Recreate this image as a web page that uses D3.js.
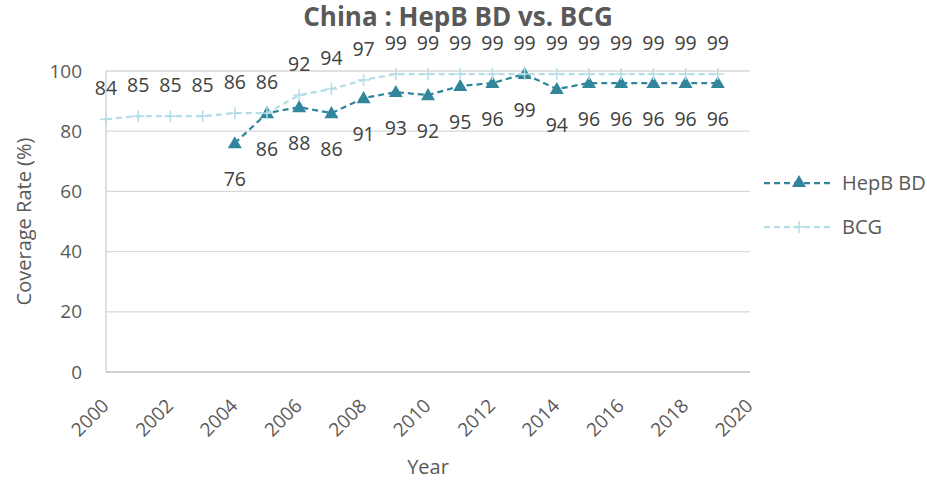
<!DOCTYPE html>
<html>
<head>
<meta charset="utf-8">
<script src="https://cdn.jsdelivr.net/npm/d3@7"></script>
<style>
  body { margin: 0; background: #fff; }
  text { font-family: "Open Sans", "Noto Sans", sans-serif; }
</style>
</head>
<body>
<svg id="chart" width="927" height="480"></svg>
<script>
// data
var bcgYears = [2000, 2001, 2002, 2003, 2004, 2005, 2006, 2007, 2008, 2009, 2010,
                2011, 2012, 2013, 2014, 2015, 2016, 2017, 2018, 2019];
var bcgValues = [84, 85, 85, 85, 86, 86, 92, 94, 97, 99, 99,
                 99, 99, 99, 99, 99, 99, 99, 99, 99];
var hepbYears = [2004, 2005, 2006, 2007, 2008, 2009, 2010, 2011, 2012, 2013,
                 2014, 2015, 2016, 2017, 2018, 2019];
var hepbValues = [76, 86, 88, 86, 91, 93, 92, 95, 96, 99, 94, 96, 96, 96, 96, 96];
var xTicks = [2000, 2002, 2004, 2006, 2008, 2010, 2012, 2014, 2016, 2018, 2020];
var yTicks = [0, 20, 40, 60, 80, 100];

var svg = d3.select("#chart");
var margin = {left: 106, right: 177, top: 71, bottom: 108};
var width = 927, height = 480;

var x = d3.scaleLinear().domain([2000, 2020]).range([margin.left, width - margin.right]);
var y = d3.scaleLinear().domain([0, 100]).range([height - margin.bottom, margin.top]);

var hepbColor = "#31869b", bcgColor = "#b4dde8";

// gridlines
svg.append("g").selectAll("line")
  .data(yTicks.filter(function (d) { return d > 0; }))
  .enter().append("line")
  .attr("x1", x(2000)).attr("x2", x(2020))
  .attr("y1", function (d) { return y(d); })
  .attr("y2", function (d) { return y(d); })
  .attr("stroke", "#d9d9d9").attr("stroke-width", 1.3);

// axes lines
svg.append("line")
  .attr("x1", x(2000)).attr("x2", x(2020)).attr("y1", y(0)).attr("y2", y(0))
  .attr("stroke", "#bfbfbf").attr("stroke-width", 1.5);
svg.append("line")
  .attr("x1", x(2000)).attr("x2", x(2000)).attr("y1", y(0)).attr("y2", y(100))
  .attr("stroke", "#d0d0d0").attr("stroke-width", 1.3);

// y tick labels
svg.append("g").selectAll("text")
  .data(yTicks).enter().append("text")
  .attr("x", x(2000) - 24)
  .attr("y", function (d) { return y(d); })
  .attr("dy", "0.35em")
  .attr("text-anchor", "end")
  .attr("font-size", 19)
  .attr("fill", "#595959")
  .text(function (d) { return d; });

// x tick labels, rotated
svg.append("g").selectAll("text")
  .data(xTicks).enter().append("text")
  .attr("transform", function (d) {
    return "translate(" + (x(d) + 4) + "," + (y(0) + 35) + ") rotate(-45)";
  })
  .attr("text-anchor", "end")
  .attr("font-size", 19)
  .attr("fill", "#595959")
  .text(function (d) { return d; });

// titles
svg.append("text")
  .attr("x", 458).attr("y", 26)
  .attr("text-anchor", "middle")
  .attr("font-size", 26).attr("font-weight", "bold")
  .attr("fill", "#595959")
  .text("China : HepB BD vs. BCG");

svg.append("text")
  .attr("x", 428).attr("y", 474)
  .attr("text-anchor", "middle")
  .attr("font-size", 20).attr("fill", "#595959")
  .text("Year");

svg.append("text")
  .attr("transform", "translate(31," + y(50) + ") rotate(-90)")
  .attr("text-anchor", "middle")
  .attr("font-size", 20).attr("fill", "#595959")
  .text("Coverage Rate (%)");

var hepb = hepbYears.map(function (d, i) { return {year: d, value: hepbValues[i]}; });
var bcg = bcgYears.map(function (d, i) { return {year: d, value: bcgValues[i]}; });

var line = d3.line()
  .x(function (d) { return x(d.year); })
  .y(function (d) { return y(d.value); });

var triangle = d3.symbol().type(d3.symbolTriangle).size(85);

// HepB BD series
svg.append("path").datum(hepb)
  .attr("d", line)
  .attr("fill", "none").attr("stroke", hepbColor)
  .attr("stroke-width", 2.25).attr("stroke-dasharray", "6,4");
svg.append("g").selectAll("path")
  .data(hepb).enter().append("path")
  .attr("d", triangle)
  .attr("transform", function (d) { return "translate(" + x(d.year) + "," + (y(d.value) + 1) + ")"; })
  .attr("fill", hepbColor);

// BCG series (drawn on top)
svg.append("path").datum(bcg)
  .attr("d", line)
  .attr("fill", "none").attr("stroke", bcgColor)
  .attr("stroke-width", 2.25).attr("stroke-dasharray", "6,4");
svg.append("g").selectAll("path")
  .data(bcg).enter().append("path")
  .attr("d", "M-6,0H6M0,-6V6")
  .attr("transform", function (d) { return "translate(" + x(d.year) + "," + y(d.value) + ")"; })
  .attr("stroke", bcgColor).attr("stroke-width", 1.5).attr("fill", "none");

// data labels
svg.append("g").selectAll("text")
  .data(bcg).enter().append("text")
  .attr("x", function (d) { return x(d.year); })
  .attr("y", function (d) { return y(d.value) - 31; })
  .attr("dy", "0.35em")
  .attr("text-anchor", "middle")
  .attr("font-size", 19.5).attr("fill", "#404040")
  .text(function (d) { return d.value; });

svg.append("g").selectAll("text")
  .data(hepb).enter().append("text")
  .attr("x", function (d) { return x(d.year); })
  .attr("y", function (d) { return y(d.value) + 36; })
  .attr("dy", "0.35em")
  .attr("text-anchor", "middle")
  .attr("font-size", 19.5).attr("fill", "#404040")
  .text(function (d) { return d.value; });

// legend
var legend = [
  {name: "HepB BD", color: hepbColor, y: 183, marker: "tri"},
  {name: "BCG", color: bcgColor, y: 227, marker: "plus"}
];
var lg = svg.append("g").selectAll("g").data(legend).enter().append("g")
  .attr("transform", function (d) { return "translate(0," + d.y + ")"; });
lg.append("line")
  .attr("x1", 764).attr("x2", 834)
  .attr("stroke", function (d) { return d.color; })
  .attr("stroke-width", 2.25).attr("stroke-dasharray", "6,4");
lg.append("path")
  .attr("d", function (d) { return d.marker === "tri" ? triangle() : "M-6,0H6M0,-6V6"; })
  .attr("transform", "translate(799,0)")
  .attr("fill", function (d) { return d.marker === "tri" ? d.color : "none"; })
  .attr("stroke", function (d) { return d.marker === "tri" ? "none" : d.color; })
  .attr("stroke-width", 1.5);
lg.append("text")
  .attr("x", 842).attr("dy", "0.35em")
  .attr("font-size", 20).attr("fill", "#595959")
  .text(function (d) { return d.name; });
</script>
</body>
</html>
